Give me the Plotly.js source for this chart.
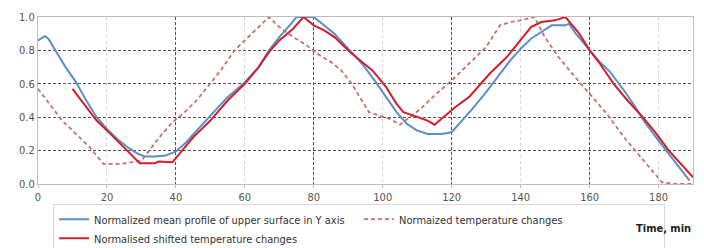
<!DOCTYPE html>
<html>
<head>
<meta charset="utf-8">
<script src="https://cdn.plot.ly/plotly-3.0.1.min.js"></script>
<style>html,body{margin:0;padding:0;background:#fff;}#chart{width:704px;height:248px;}</style>
</head>
<body>
<div id="chart"></div>
<script>
// Normalized mean profile of upper surface in Y axis (blue)
const profileTime = [0,2,3,5,8,11,14,17,20,23,26,29,31,34,37,40,43,46,50,55,60,64,67,70,73,75,80,83,86,90,94,98,101,104,107,110,113,117,120,123,126,130,134,137,140,143,146,149,153,154,156,160,163,166,170,173,176,180,183,186,189];
const profileValue = [0.86,0.885,0.87,0.80,0.70,0.61,0.50,0.40,0.33,0.27,0.22,0.18,0.165,0.165,0.17,0.195,0.25,0.32,0.41,0.52,0.61,0.70,0.80,0.88,0.95,1.0,1.0,0.95,0.90,0.81,0.72,0.61,0.52,0.43,0.36,0.32,0.30,0.30,0.31,0.38,0.45,0.55,0.66,0.74,0.81,0.87,0.91,0.95,0.95,0.96,0.90,0.80,0.73,0.67,0.56,0.47,0.37,0.26,0.18,0.10,0.02];

// Normalized temperature changes (dashed)
const tempTime = [0,3,7,10,12,15,19,24,27,30,33,36,39,42,46,50,53,57,60,63,67,70,74,78,81,85,88,91,94,96,99,102,105,108,111,115,120,125,130,134,137,140,144,147,151,155,160,165,170,175,181,185,190];
const tempValue = [0.57,0.49,0.38,0.32,0.28,0.22,0.12,0.12,0.13,0.14,0.22,0.30,0.37,0.42,0.50,0.60,0.68,0.80,0.86,0.92,1.0,0.94,0.88,0.83,0.78,0.73,0.68,0.60,0.50,0.43,0.41,0.39,0.355,0.40,0.45,0.53,0.62,0.72,0.82,0.95,0.97,0.98,1.0,0.88,0.76,0.66,0.54,0.42,0.28,0.16,0.01,0.0,0.0];

// Normalised shifted temperature changes (red)
const shiftedTime = [10,13,17,21,24,27,29.5,34,35,39,41,45,50,55,60,64,67,70,74,77,80,83,86,90,94,97,101,104,106,110,113,115,118,121,125,128,131,136,140,143,146,150,153,157,160,163,167,171,175,179,183,187,190];
const shiftedValue = [0.57,0.49,0.38,0.30,0.24,0.18,0.125,0.125,0.135,0.13,0.18,0.28,0.38,0.50,0.60,0.70,0.79,0.86,0.93,1.0,0.95,0.92,0.88,0.80,0.73,0.68,0.58,0.48,0.43,0.40,0.38,0.355,0.41,0.46,0.52,0.59,0.66,0.76,0.86,0.94,0.97,0.98,1.0,0.90,0.80,0.72,0.60,0.50,0.41,0.31,0.20,0.11,0.04];

const xTicks = [0,20,40,60,80,100,120,140,160,180];
const yTicks = [0,0.2,0.4,0.6,0.8,1.0];
const yGrid = [0.2,0.4,0.6,0.8];

const FONT = '"Liberation Sans Narrow", "DejaVu Sans Condensed", "Liberation Sans", sans-serif';

const data = [
  {x: tempTime, y: tempValue, xaxis:'x', yaxis:'y', mode:'lines', name:'Normaized temperature changes',
   line:{color:'#C9706B', width:1.8, dash:'4px,3px'}, legendrank: 2},
  {x: profileTime, y: profileValue, xaxis:'x2', yaxis:'y2', mode:'lines', name:'Normalized mean profile of upper surface in Y axis',
   line:{color:'#5B8FC9', width:2}, legendrank: 1},
  {x: shiftedTime, y: shiftedValue, xaxis:'x2', yaxis:'y2', mode:'lines', name:'Normalised shifted temperature changes',
   line:{color:'#D41F2B', width:2}, legendrank: 3}
];

const layout = {
  width:704, height:248,
  margin:{l:38, r:11, t:17, b:64, autoexpand:false},
  paper_bgcolor:'#fff', plot_bgcolor:'#fff',
  font:{family:FONT, size:11, color:'#555'},
  showlegend:true,
  xaxis:{range:[0,190], tickvals:xTicks, showgrid:true, gridcolor:'#d4d4d4', griddash:'dot', gridwidth:1,
         showline:true, linecolor:'#bdbdbd', mirror:true, ticks:'outside', ticklen:3, tickcolor:'#bdbdbd',
         zeroline:false, tickfont:{size:11, color:'#555'}},
  yaxis:{range:[0,1], tickvals:yTicks, tickformat:'.1f', showgrid:false, showline:true, linecolor:'#bdbdbd', mirror:true,
         zeroline:false, ticks:'', tickfont:{size:11, color:'#555'}},
  xaxis2:{overlaying:'x', range:[0,190], tick0:0, dtick:40, showgrid:true, gridcolor:'#555', griddash:'3px,2px', gridwidth:1,
          showticklabels:false, showline:false, zeroline:false, ticks:''},
  yaxis2:{overlaying:'y', range:[0,1], tickvals:yGrid, showgrid:true, gridcolor:'#555', griddash:'3px,2px', gridwidth:1,
          showticklabels:false, showline:false, zeroline:false, ticks:''},
  legend:{orientation:'h', x:0.023, xanchor:'left', y:-0.118, yanchor:'top', traceorder:'normal',
          entrywidthmode:'pixels', entrywidth:260,
          bordercolor:'#d8d8d8', borderwidth:1, bgcolor:'#fff',
          font:{family:FONT, size:11, color:'#333'}, tracegroupgap:0, itemwidth:30},
  annotations:[{text:'<b>Time, min</b>', xref:'paper', yref:'paper', x:1.0, xanchor:'right', y:-0.265, yanchor:'middle',
                showarrow:false, font:{family:FONT, size:11, color:'#222'}}]
};

Plotly.newPlot('chart', data, layout, {staticPlot:true, displayModeBar:false});
</script>
</body>
</html>
